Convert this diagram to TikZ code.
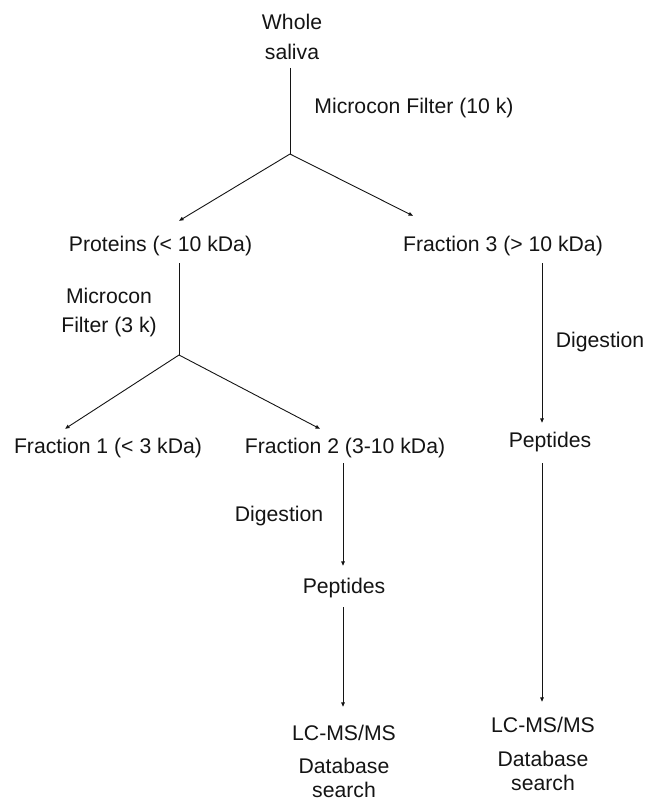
\documentclass[tikz,border=0pt]{standalone}
\usepackage{fontspec}
\setmainfont{Liberation Sans}
\usetikzlibrary{arrows.meta}
\definecolor{inkcolor}{RGB}{20,20,20}
\tikzset{
  flowln/.style={line width=0.9pt, inkcolor},
  arrln/.style={-{Triangle[length=4.5pt,width=3.6pt]}, line width=0.9pt, inkcolor},
  lbl/.style={font=\fontsize{21.2}{24}\selectfont, text=inkcolor, inner sep=0pt,
    text height=15.2pt, text depth=0pt},
  lbltwo/.style={font=\fontsize{21.2}{#1}\selectfont, text=inkcolor, inner sep=0pt,
    align=center, anchor=north},
}

\begin{document}
\begin{tikzpicture}[x=1pt, y=-1pt]
    \useasboundingbox (0,0) rectangle (647,799);
    % first filter: whole saliva into two parts
    \node[lbltwo=30] (whole) at (292,14.4) {Whole\\saliva};
    \coordinate (split1) at (290,154);
    \node[lbl] (filt10) at (414,106) {Microcon Filter (10 k)};
    \node[lbl] (prot) at (160.5,244) {Proteins (< 10 kDa)};
    \node[lbl] (frac3) at (503,244) {Fraction 3 (> 10 kDa)};
    \draw[flowln, shorten <=7.4pt] ([xshift=-2pt]whole.south) -- (split1);
    \draw[arrln, shorten >=29.8pt] (split1) -- ([xshift=-7pt]prot.north);
    \draw[arrln, shorten >=45.3pt] (split1) -- ([xshift=-49.5pt]frac3.north);
    % second filter on the proteins
    \node[lbltwo=29] (filt3) at (109,288.4) {Microcon\\Filter (3 k)};
    \coordinate (split2) at (179,355);
    \node[lbl] (frac1) at (108,446) {Fraction 1 (< 3 kDa)};
    \node[lbl] (frac2) at (345,446) {Fraction 2 (3-10 kDa)};
    \draw[flowln, shorten <=11.4pt] ([xshift=18.5pt]prot.south) -- (split2);
    \draw[arrln, shorten >=17.3pt] (split2) -- ([xshift=-57.5pt]frac1.north);
    \draw[arrln, shorten >=20.2pt] (split2) -- ([xshift=-7.1pt]frac2.north);
    % fraction 2 branch
    \node[lbl] (dig2) at (279,514) {Digestion};
    \node[lbl] (pep2) at (344,586) {Peptides};
    \node[lbl] (lc2) at (344,733) {LC-MS/MS};
    \node[lbltwo=24] (db2) at (344,758.4) {Database\\search};
    \draw[arrln, shorten <=9.4pt, shorten >=12.4pt]
      ([xshift=-2pt]frac2.south) -- ([xshift=-1pt]pep2.north);
    \draw[arrln, shorten <=13.4pt, shorten >=18.4pt]
      ([xshift=-1pt]pep2.south) -- ([xshift=-1pt]lc2.north);
    % fraction 3 branch
    \node[lbl] (dig3) at (600,340) {Digestion};
    \node[lbl] (pep3) at (550,440) {Peptides};
    \node[lbl] (lc3) at (543,725) {LC-MS/MS};
    \node[lbltwo=24] (db3) at (543,751.4) {Database\\search};
    \draw[arrln, shorten <=11.4pt, shorten >=9.4pt]
      ([xshift=39pt]frac3.south) -- ([xshift=-8pt]pep3.north);
    \draw[arrln, shorten <=15.4pt, shorten >=15.4pt]
      ([xshift=-8pt]pep3.south) -- ([xshift=-1pt]lc3.north);
  \end{tikzpicture}
\end{document}
